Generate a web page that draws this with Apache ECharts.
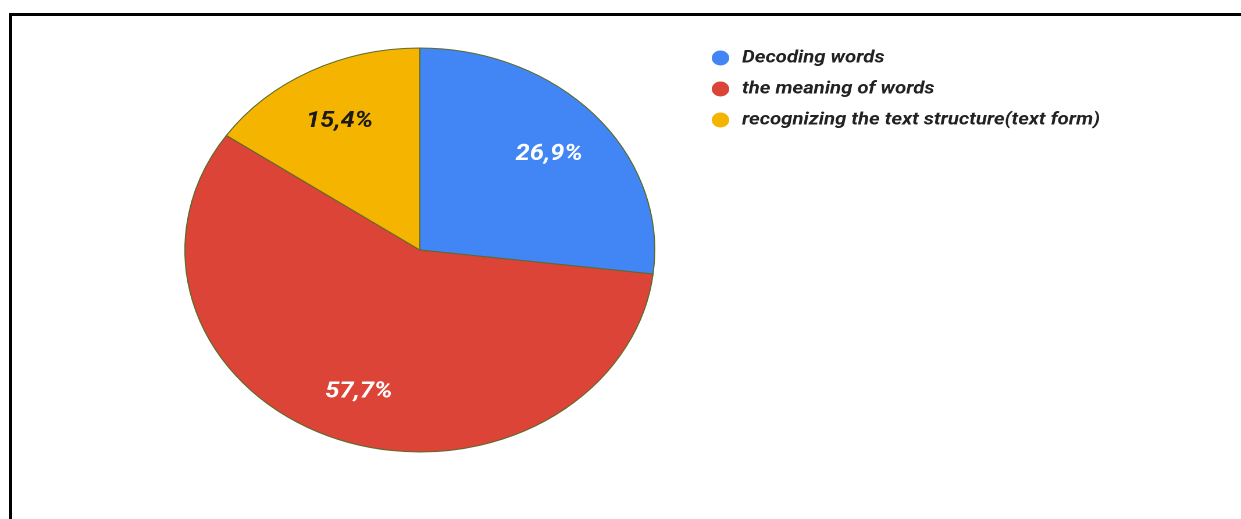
<!DOCTYPE html>
<html>
<head>
<meta charset="utf-8">
<script src="https://cdn.jsdelivr.net/npm/echarts@6/dist/echarts.min.js"></script>
<style>
  html, body { margin: 0; padding: 0; background: #fff; overflow: hidden; }
  #frame {
    position: absolute; left: 9px; top: 13px; width: 1240px; height: 520px;
    border-top: 3px solid #000; border-left: 3px solid #000; box-sizing: border-box;
  }
  /* the pie is drawn wider than it is tall */
  #chart {
    position: absolute; left: 0; top: 0; width: 1067px; height: 519px;
    transform-origin: 0 0; transform: scaleX(1.163);
  }
</style>
</head>
<body>
<div id="frame"></div>
<div id="chart"></div>
<script>
const categories = ['Decoding words', 'the meaning of words', 'recognizing the text structure(text form)'];
const shares = [26.9, 57.7, 15.4];
const colors = ['#4285f4', '#db4437', '#f4b400'];
const labelColors = ['#ffffff', '#ffffff', '#1a1a1a'];

const fmt = v => v.toFixed(1).replace('.', ',') + '%';
const data = categories.map((name, i) => ({ name, value: shares[i] }));

const chart = echarts.init(document.getElementById('chart'), null, { renderer: 'canvas', devicePixelRatio: 2 });
chart.setOption({
  animation: false,
  color: colors,
  legend: {
    orient: 'vertical',
    left: 607,
    top: 44,
    icon: 'circle',
    itemWidth: 15,
    itemHeight: 15,
    itemGap: 13,
    data: categories,
    itemStyle: { borderWidth: 0 },
    textStyle: {
      fontFamily: 'Roboto', fontSize: 17.5, lineHeight: 17, fontWeight: 'bold', fontStyle: 'italic',
      color: '#222', padding: [0, 0, 0, 6]
    }
  },
  series: [
    {
      type: 'pie',
      center: [361, 250],
      radius: [0, 202],
      startAngle: 90,
      clockwise: true,
      silent: true,
      data: data,
      itemStyle: { borderColor: '#5c6b2e', borderWidth: 1 },
      label: { show: false },
      labelLine: { show: false }
    },
    {
      // label ring: places the percentages at about 72% of the radius
      type: 'pie',
      center: [361, 253],
      radius: [89, 202],
      startAngle: 90,
      clockwise: true,
      silent: true,
      legendHoverLink: false,
      data: data.map((d, i) => ({
        name: d.name, value: d.value,
        label: { color: labelColors[i] }
      })),
      itemStyle: { color: 'rgba(0,0,0,0)', borderWidth: 0 },
      label: {
        show: true, position: 'inside',
        formatter: p => fmt(p.value),
        fontFamily: 'Roboto', fontSize: 22, fontWeight: 'bold', fontStyle: 'italic'
      },
      labelLine: { show: false }
    }
  ]
});
</script>
</body>
</html>
